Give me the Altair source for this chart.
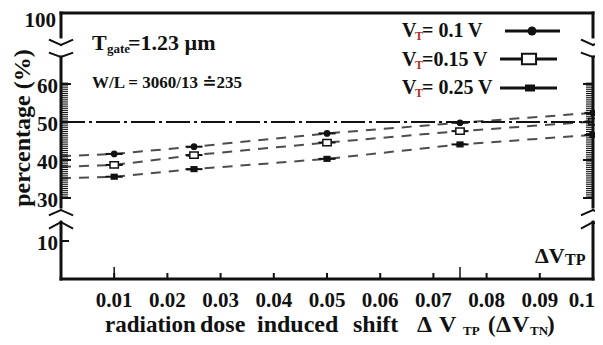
import altair as alt
import numpy as np
import pandas as pd

FONT = "'Liberation Serif', 'Times New Roman', Times, 'DejaVu Serif', serif"
INK = "#111111"
SUB = "#b0302a"

# ---------------- data ----------------
dose_shift = [0.01, 0.025, 0.05, 0.075, 0.1]
pct_vt_010 = [41.6, 43.5, 47.0, 49.8, 52.4]
pct_vt_015 = [38.7, 41.3, 44.6, 47.6, 50.1]
pct_vt_025 = [35.6, 37.6, 40.3, 44.1, 46.6]
series_keys = ["0.1", "0.15", "0.25"]
pct_at_zero = [41.0, 38.2, 35.2]          # where the dashed lines meet the left axis
reference_pct = 50

x_tick_values = [0.01, 0.02, 0.03, 0.04, 0.05, 0.06, 0.07, 0.08, 0.09]
x_label_values = [0.01, 0.02, 0.03, 0.04, 0.05, 0.06, 0.07, 0.08, 0.09]
x_label_text = ["0.01", "0.02", "0.03", "0.04", "0.05", "0.06", "0.07", "0.08", "0.09"]
x_last_value = [0.1]
x_last_text = ["0.1"]
y_label_values = [10, 30, 40, 50, 60]
y_top_value = [100]
y_major_ticks = [30, 40, 50, 60]
y_low_tick = [10]

# broken y axis -> piecewise linear scale
y_domain_pieces = [0, 10, 30, 60, 100]
y_range_pieces = [266, 228, 185, 71, 0]
# axis gaps (percent units) and chevron vertices
lower_gap = (18.8, 25.8)
upper_gap = (75.2, 86.5)
chevrons = [(24.4, -2.3), (18.8, -2.8), (82.0, 2.8), (75.2, 2.3)]

W, H = 532, 266
XMAX = 0.1

xs = alt.Scale(domain=[0, XMAX], nice=False, zero=False)
ys = alt.Scale(domain=y_domain_pieces, range=y_range_pieces, nice=False, zero=False)


def X(f):
    return alt.X(f, scale=xs, axis=None)


def Y(f):
    return alt.Y(f, scale=ys, axis=None)


# ---------------- data layers ----------------
line_rows = []
for key, z, vals in zip(series_keys, pct_at_zero, [pct_vt_010, pct_vt_015, pct_vt_025]):
    line_rows.append({"vt": key, "x": 0.0, "y": z})
    line_rows += [{"vt": key, "x": a, "y": b} for a, b in zip(dose_shift, vals)]
lines_df = pd.DataFrame(line_rows)
pts_df = lines_df[lines_df.x > 0].reset_index(drop=True)

dashed = alt.Chart(lines_df).mark_line(color="#4d4d4d", strokeWidth=2, strokeDash=[10, 8]).encode(
    x=X("x:Q"), y=Y("y:Q"), detail="vt:N", order="x:Q")

ref_df = pd.DataFrame({"y": [reference_pct], "x0": [0.0], "x1": [XMAX]})
dashdot = alt.Chart(ref_df).mark_rule(color=INK, strokeWidth=2, strokeDash=[24, 4, 3, 4]).encode(
    x=X("x0:Q"), x2="x1:Q", y=Y("y:Q"))

err = alt.Chart(pts_df).transform_calculate(
    xl="datum.x - 0.0016", xr="min(datum.x + 0.0016, 0.1)"
).mark_rule(color=INK, strokeWidth=2).encode(x=X("xl:Q"), x2="xr:Q", y=Y("y:Q"))

circ = alt.Chart(pts_df[pts_df.vt == "0.1"]).mark_point(
    shape="circle", filled=True, size=45, color=INK, opacity=1).encode(x=X("x:Q"), y=Y("y:Q"))
osq = alt.Chart(pts_df[pts_df.vt == "0.15"]).mark_point(
    shape="M-1,-0.75H1V0.75H-1Z", size=70, filled=True, fill="white", stroke=INK,
    strokeWidth=1.5, opacity=1).encode(x=X("x:Q"), y=Y("y:Q"))
fsq = alt.Chart(pts_df[pts_df.vt == "0.25"]).mark_point(
    shape="M-1,-0.85H1V0.85H-1Z", size=52, filled=True, color=INK, opacity=1).encode(
    x=X("x:Q"), y=Y("y:Q"))

# ---------------- frame with axis breaks ----------------
d = 0.0021
segs = []


def seg(x1, y1, x2, y2, w):
    segs.append({"x": x1, "y": y1, "x2": x2, "y2": y2, "w": w})


seg(0, 0, XMAX, 0, 3)
seg(0, 100, XMAX, 100, 3)
for ax in (0, XMAX):
    seg(ax, 0, ax, lower_gap[0], 3)
    seg(ax, lower_gap[1], ax, upper_gap[0], 3)
    seg(ax, upper_gap[1], ax, 100, 3)
    for vy, arm in chevrons:
        seg(ax - d, vy + arm, ax, vy, 2)
        seg(ax, vy, ax + d, vy + arm, 2)
seg_df = pd.DataFrame(segs)
frame = alt.Chart(seg_df).mark_rule(color=INK, strokeCap="square").encode(
    x=X("x:Q"), x2="x2:Q", y=Y("y:Q"), y2="y2:Q", strokeWidth=alt.StrokeWidth("w:Q", scale=None))

minor_vals = [float(v) for v in np.arange(30, 60.51, 0.5) if v not in y_major_ticks]
minor_df = pd.DataFrame({"v": minor_vals})
major_df = pd.DataFrame({"v": y_major_ticks})
low_df = pd.DataFrame({"v": y_low_tick})
lt_minor = alt.Chart(minor_df).mark_rule(color=INK, strokeWidth=1).encode(
    y=Y("v:Q"), x=alt.value(0), x2=alt.value(7))
lt_major = alt.Chart(major_df).mark_rule(color=INK, strokeWidth=2).encode(
    y=Y("v:Q"), x=alt.value(0), x2=alt.value(10))
lt_low = alt.Chart(low_df).mark_rule(color=INK, strokeWidth=2).encode(
    y=Y("v:Q"), x=alt.value(0), x2=alt.value(8))
rt_minor = alt.Chart(minor_df).mark_rule(color=INK, strokeWidth=1).encode(
    y=Y("v:Q"), x=alt.value(W - 7), x2=alt.value(W))
rt_major = alt.Chart(major_df).mark_rule(color=INK, strokeWidth=2).encode(
    y=Y("v:Q"), x=alt.value(W - 10), x2=alt.value(W))

xt_df = pd.DataFrame({"v": x_tick_values})
bt = alt.Chart(xt_df).mark_rule(color=INK, strokeWidth=2).encode(
    x=X("v:Q"), y=alt.value(H), y2=alt.value(H - 6))
tall_df = pd.DataFrame({"v": [dose_shift[0], dose_shift[3]]})
bt_tall = alt.Chart(tall_df).mark_rule(color=INK, strokeWidth=1.5).encode(
    x=X("v:Q"), y=alt.value(H), y2=alt.value(H - 12))

# ---------------- tick labels ----------------
xl_df = pd.DataFrame({"v": x_label_values, "t": x_label_text})
x_labels = alt.Chart(xl_df).mark_text(font=FONT, fontWeight="bold", fontSize=21, color=INK,
                                      baseline="alphabetic", align="center").encode(
    x=X("v:Q"), y=alt.value(294), text="t:N")
xlast_df = pd.DataFrame({"v": x_last_value, "t": x_last_text})
x_last = alt.Chart(xlast_df).mark_text(font=FONT, fontWeight="bold", fontSize=21, color=INK,
                                       baseline="alphabetic", align="right", dx=2).encode(
    x=X("v:Q"), y=alt.value(294), text="t:N")
yl_df = pd.DataFrame({"v": y_label_values, "t": [str(v) for v in y_label_values]})
y_labels = alt.Chart(yl_df).mark_text(font=FONT, fontWeight="bold", fontSize=21, color=INK,
                                      baseline="middle", align="right", dy=3).encode(
    y=Y("v:Q"), x=alt.value(-3), text="t:N")
ytop_df = pd.DataFrame({"v": y_top_value, "t": [str(v) for v in y_top_value]})
y_top = alt.Chart(ytop_df).mark_text(font=FONT, fontWeight="bold", fontSize=21, color=INK,
                                     baseline="middle", align="right", dy=8).encode(
    y=Y("v:Q"), x=alt.value(-5), text="t:N")

# ---------------- annotation texts (plot-pixel layout) ----------------
txt_rows = [
    ("T", 31, 37, 22, INK), ("gate", 46, 40, 13, INK), ("=1.23 µm", 67, 37, 22, INK),
    ("W/L = 3060/13 ≐235", 31, 75, 17, INK),
    ("V", 341, 24, 20, INK), ("T", 354, 27, 12, SUB), ("= 0.1 V", 361, 24, 20, INK),
    ("V", 341, 52.5, 20, INK), ("T", 354, 55.5, 12, SUB), ("=0.15 V", 361, 52.5, 20, INK),
    ("V", 341, 81, 20, INK), ("T", 354, 84, 12, SUB), ("= 0.25 V", 361, 81, 20, INK),
    ("ΔV", 474, 250, 22, INK), ("TP", 504, 252, 16, INK),
    ("radiation", 44, 319, 23, INK), ("dose", 139, 319, 24, INK),
    ("induced", 196, 319, 24, INK), ("shift", 292, 319, 24, INK),
    ("Δ", 356, 319, 24, INK), ("V", 378, 319, 24, INK), ("TP", 402, 322, 13, INK),
    ("(", 427, 319, 23, INK), ("Δ", 435, 319, 24, INK), ("V", 451, 319, 24, INK),
    ("TN", 469, 322, 13, INK), (")", 486, 319, 23, INK),
]
txt_df = pd.DataFrame(txt_rows, columns=["t", "px", "py", "fs", "c"])
texts = alt.Chart(txt_df).mark_text(font=FONT, fontWeight="bold", align="left",
                                    baseline="alphabetic").encode(
    text="t:N", x=alt.X("px:Q", scale=None), y=alt.Y("py:Q", scale=None),
    size=alt.Size("fs:Q", scale=None), color=alt.Color("c:N", scale=None))

ytitle = alt.Chart(pd.DataFrame({"t": ["percentage (%)"]})).mark_text(
    font=FONT, fontWeight="bold", fontSize=24, color=INK, angle=270, align="center",
    baseline="alphabetic").encode(text="t:N", x=alt.value(-31), y=alt.value(115))

# ---------------- legend symbols ----------------
leg_df = pd.DataFrame({"a": [444, 439, 439], "b": [499, 496, 496], "c": [18, 46, 75]})
leg_lines = alt.Chart(leg_df).mark_rule(color=INK, strokeWidth=3).encode(
    x=alt.X("a:Q", scale=None), x2="b:Q", y=alt.Y("c:Q", scale=None))
one = pd.DataFrame({"k": [0]})
leg_c = alt.Chart(one).mark_point(shape="circle", filled=True, size=80, color=INK, opacity=1).encode(
    x=alt.value(471), y=alt.value(18))
leg_o = alt.Chart(one).mark_point(shape="M-1,-0.73H1V0.73H-1Z", size=200, filled=True, fill="white",
                                  stroke=INK, strokeWidth=2, opacity=1).encode(
    x=alt.value(468), y=alt.value(46))
leg_f = alt.Chart(one).mark_point(shape="M-1,-0.7H1V0.7H-1Z", size=100, filled=True, color=INK,
                                  opacity=1).encode(x=alt.value(469), y=alt.value(75))

chart = alt.layer(
    dashed, dashdot, err, circ, osq, fsq,
    lt_minor, lt_major, lt_low, rt_minor, rt_major, bt, bt_tall, frame,
    x_labels, x_last, y_labels, y_top, texts, ytitle,
    leg_lines, leg_c, leg_o, leg_f,
).resolve_scale(
    x="independent", y="independent", color="independent", size="independent"
).properties(
    width=W, height=H,
    padding={"left": 53, "top": 5, "right": 2, "bottom": 58},
    autosize=alt.AutoSizeParams(type="none"),
    background="white",
).configure_view(stroke=None)

chart.save("out.html", embed_options={"renderer": "svg", "actions": False})
